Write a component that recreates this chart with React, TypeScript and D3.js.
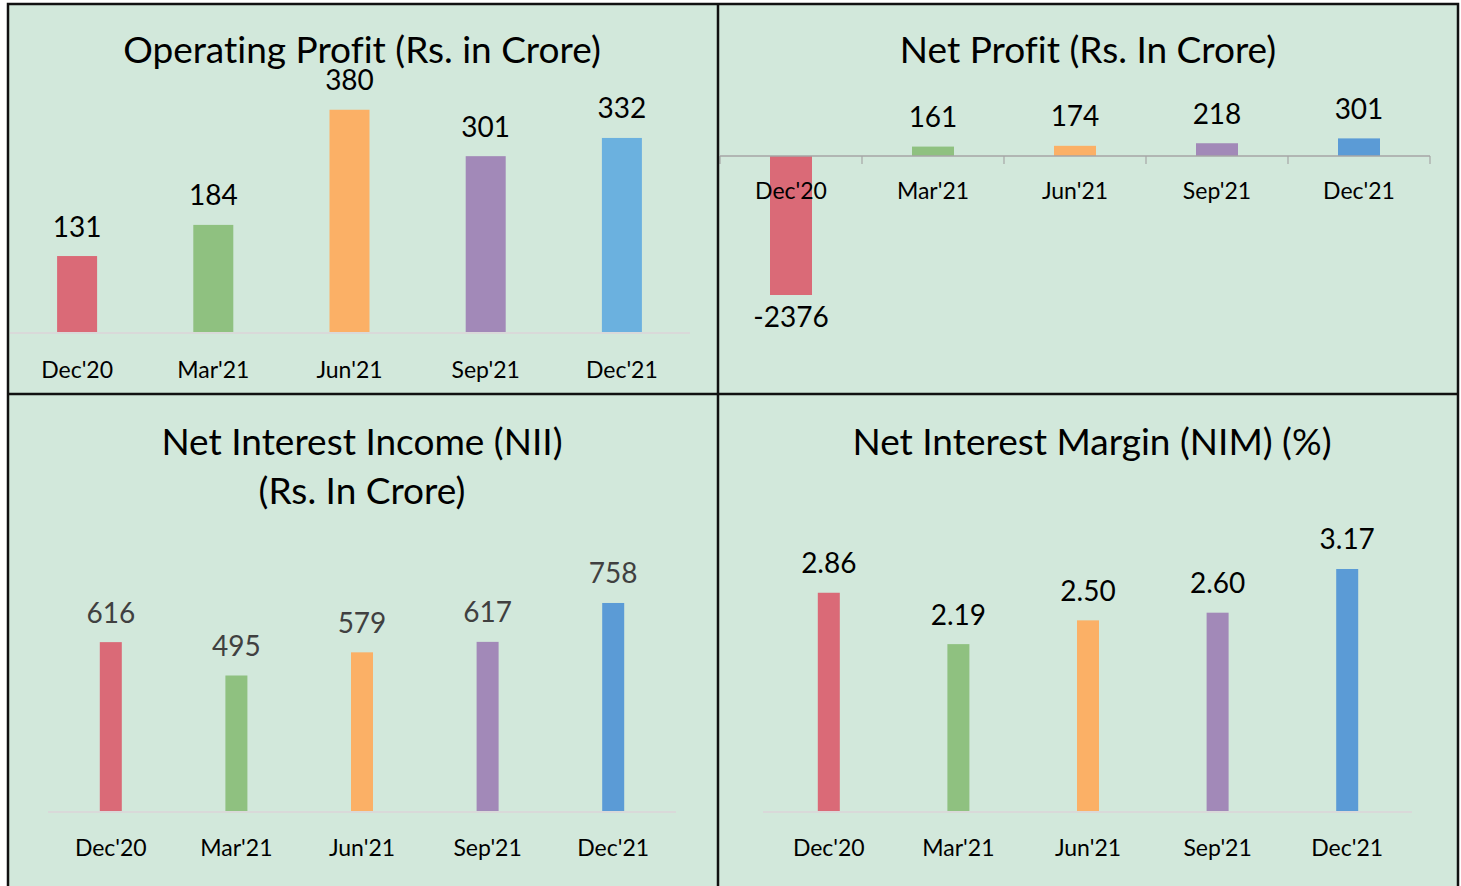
import React from "react";
import * as d3 from "d3";

const categories = ["Dec'20", "Mar'21", "Jun'21", "Sep'21", "Dec'21"];
const operatingProfit = [131, 184, 380, 301, 332];
const netProfit = [-2376, 161, 174, 218, 301];
const netInterestIncome = [616, 495, 579, 617, 758];
const netInterestMargin = [2.86, 2.19, 2.5, 2.6, 3.17];
const opColors = ["#DA6A77", "#8FC180", "#FBB066", "#A289B8", "#6BB1DF"];
const colors = ["#DA6A77", "#8FC180", "#FBB066", "#A289B8", "#5B9BD6"];

const FONT = "Lato, 'Open Sans', sans-serif";
const BG = "#D2E8DB";

type PanelProps = {
  title: string[];
  titleX: number;
  titleY: number;
  values: number[];
  fmt: (v: number) => string;
  barColors: string[];
  xRange: [number, number];
  barWidth: number;
  yDomain: [number, number];
  yRange: [number, number];
  axisStroke: string;
  axisWidth: number;
  axisX: [number, number];
  ticks?: boolean;
  labelColor: string;
  catOffset: number;
};

const textStyle = { fontVariantLigatures: "none" } as React.CSSProperties;

function Panel(p: PanelProps) {
  const x = d3.scaleBand<string>().domain(categories).range(p.xRange);
  const y = d3.scaleLinear().domain(p.yDomain).range(p.yRange);
  const y0 = y(0);
  const bw = p.barWidth;
  return (
    <g>
      {p.title.map((t, i) => (
        <text
          key={i}
          x={p.titleX}
          y={p.titleY + i * 49}
          textAnchor="middle"
          dominantBaseline="central"
          fontFamily={FONT}
          fontSize={37}
          fill="#000"
          style={textStyle}
        >
          {t}
        </text>
      ))}
      {p.values.map((v, i) => {
        const cx = (x(categories[i]) as number) + x.bandwidth() / 2;
        const top = Math.min(y(v), y0);
        const h = Math.abs(y(v) - y0);
        return (
          <g key={i}>
            <rect x={cx - bw / 2} y={top} width={bw} height={h} fill={p.barColors[i]} />
          </g>
        );
      })}
      <line
        x1={p.axisX[0]}
        x2={p.axisX[1]}
        y1={y0}
        y2={y0}
        stroke={p.axisStroke}
        strokeWidth={p.axisWidth}
      />
      {p.ticks &&
        d3.range(categories.length + 1).map((i) => {
          const tx = p.xRange[0] + i * x.step();
          return (
            <line key={i} x1={tx} x2={tx} y1={y0} y2={y0 + 8} stroke={p.axisStroke} strokeWidth={1.2} />
          );
        })}
      {p.values.map((v, i) => {
        const cx = (x(categories[i]) as number) + x.bandwidth() / 2;
        const ly = v >= 0 ? y(v) - 30.5 : y(v) + 21;
        return (
          <text
            key={i}
            x={cx}
            y={ly}
            textAnchor="middle"
            dominantBaseline="central"
            fontFamily={FONT}
            fontSize={28}
            fill={p.labelColor}
          >
            {p.fmt(v)}
          </text>
        );
      })}
      {categories.map((c) => {
        const cx = (x(c) as number) + x.bandwidth() / 2;
        return (
          <text
            key={c}
            x={cx}
            y={y0 + p.catOffset}
            textAnchor="middle"
            dominantBaseline="central"
            fontFamily={FONT}
            fontSize={23}
            fill="#000"
          >
            {c}
          </text>
        );
      })}
    </g>
  );
}

export default function App() {
  const intFmt = (v: number) => String(Math.round(v));
  const nimFmt = d3.format(".2f");
  return (
    <svg
      width={1461}
      height={886}
      style={{ position: "absolute", left: 0, top: 0, background: "#fff" }}
    >
      <rect x={8} y={4} width={1451} height={890} fill={BG} />
      <Panel
        title={["Operating Profit (Rs. in Crore)"]}
        titleX={362}
        titleY={48}
        values={operatingProfit}
        fmt={intFmt}
        barColors={opColors}
        xRange={[9, 690]}
        barWidth={40}
        yDomain={[0, 400]}
        yRange={[333, 98]}
        axisStroke="#D9D9D9"
        axisWidth={2}
        axisX={[10, 690]}
        labelColor="#000"
        catOffset={36}
      />
      <Panel
        title={["Net Profit (Rs. In Crore)"]}
        titleX={1088}
        titleY={48}
        values={netProfit}
        fmt={intFmt}
        barColors={colors}
        xRange={[720, 1430]}
        barWidth={42}
        yDomain={[-2500, 500]}
        yRange={[302.25, 126.75]}
        axisStroke="#A6A6A6"
        axisWidth={1.5}
        axisX={[720, 1430]}
        ticks
        labelColor="#000"
        catOffset={34}
      />
      <Panel
        title={["Net Interest Income (NII)", "(Rs. In Crore)"]}
        titleX={362}
        titleY={440}
        values={netInterestIncome}
        fmt={intFmt}
        barColors={colors}
        xRange={[48, 676]}
        barWidth={22}
        yDomain={[0, 800]}
        yRange={[812, 591.4]}
        axisStroke="#D9D9D9"
        axisWidth={2}
        axisX={[48, 676]}
        labelColor="#404040"
        catOffset={35}
      />
      <Panel
        title={["Net Interest Margin (NIM) (%)"]}
        titleX={1092}
        titleY={440}
        values={netInterestMargin}
        fmt={nimFmt}
        barColors={colors}
        xRange={[764, 1412]}
        barWidth={22}
        yDomain={[0, 3.5]}
        yRange={[812, 543.7]}
        axisStroke="#D9D9D9"
        axisWidth={2}
        axisX={[763, 1412]}
        labelColor="#000"
        catOffset={35}
      />
      <g stroke="#111" strokeWidth={2.5} fill="none">
        <rect x={8} y={4} width={1450} height={890} />
        <line x1={718} x2={718} y1={4} y2={886} />
        <line x1={8} x2={1458} y1={394} y2={394} />
      </g>
    </svg>
  );
}
